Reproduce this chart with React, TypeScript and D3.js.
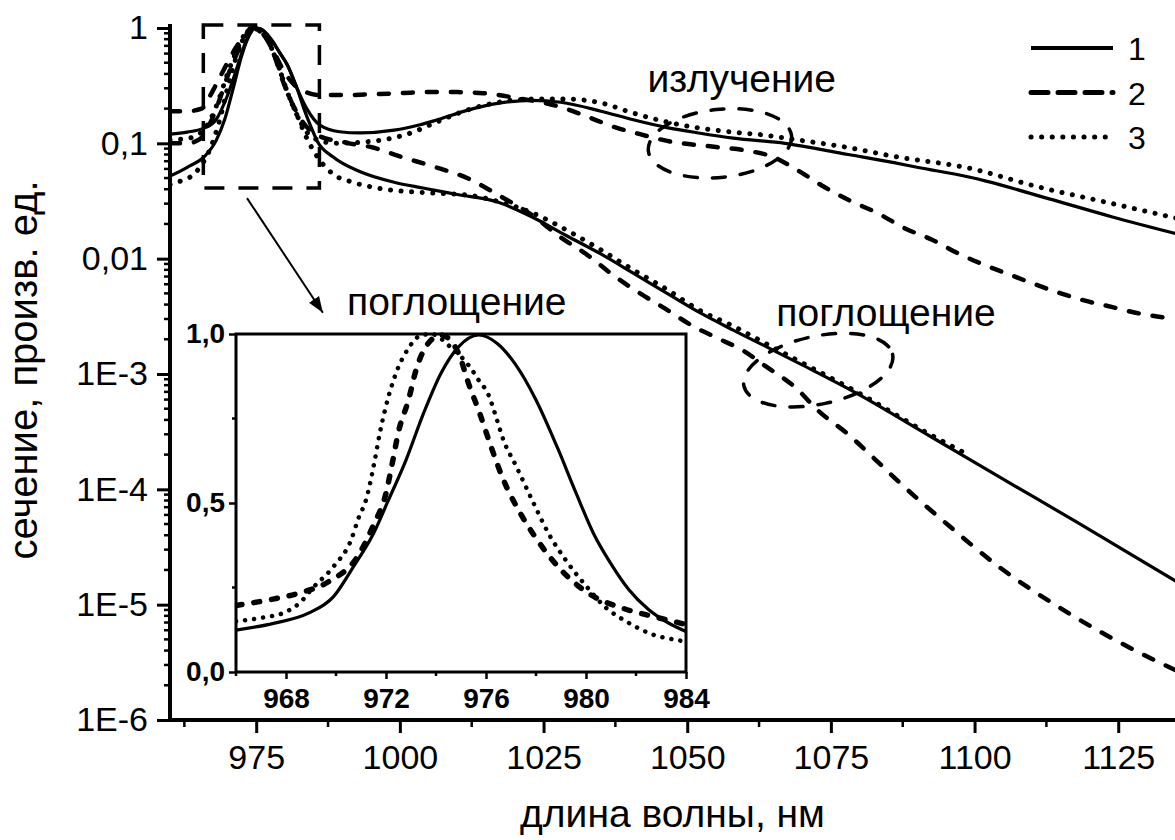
import React, { useEffect, useRef } from 'react'
import * as d3 from 'd3'

type Pt = [number, number]

// main plot, log scale: [wavelength, nm ; cross-section, rel. units]
const emission1: Pt[] = [
    [960, 0.052], [963, 0.062], [966, 0.077], [968, 0.105], [969.5, 0.16], [971, 0.3], [972.5, 0.58], [974, 0.9],
    [974.8, 1], [975.8, 0.98], [977, 0.87], [977.9, 0.76], [979, 0.62], [980.4, 0.48], [982.1, 0.3], [983.8, 0.2],
    [986, 0.145], [989.5, 0.126], [993, 0.123], [999, 0.13], [1003.5, 0.145], [1006, 0.157], [1012, 0.195],
    [1017, 0.222], [1023, 0.236], [1028, 0.227], [1035, 0.19], [1040.6, 0.16], [1046.5, 0.137], [1052, 0.123],
    [1058, 0.111], [1067, 0.1], [1078, 0.08], [1086, 0.068], [1090, 0.062], [1099, 0.051], [1102, 0.047],
    [1113, 0.033], [1124, 0.023], [1135, 0.0165]
]
const absorption1: Pt[] = [
    [960, 0.12], [963, 0.125], [966, 0.136], [968, 0.16], [970, 0.26], [971.7, 0.46], [973, 0.72], [974, 0.92],
    [974.8, 1], [975.8, 0.98], [977, 0.87], [977.9, 0.76], [979, 0.62], [980.4, 0.48], [982.1, 0.3], [983.3, 0.2],
    [984.5, 0.14], [985.6, 0.105], [988.4, 0.076], [993, 0.057], [999, 0.046], [1004, 0.041], [1010, 0.036],
    [1017, 0.031], [1023, 0.023], [1029, 0.0158], [1034.8, 0.0111], [1040.6, 0.0075], [1046.5, 0.005],
    [1052.2, 0.0034], [1058, 0.0024], [1064, 0.0017], [1070, 0.0012], [1079.5, 0.00068], [1092.2, 0.00029],
    [1104.9, 0.000123], [1117.8, 5.2e-5], [1135, 1.6e-5]
]
const emission2: Pt[] = [
    [960, 0.19], [963, 0.19], [965.5, 0.2], [967, 0.26], [968.5, 0.36], [970, 0.5], [971.5, 0.68], [973, 0.86],
    [974.8, 1], [976.5, 0.88], [977.9, 0.65], [979.5, 0.45], [981.4, 0.33], [983.5, 0.28], [986, 0.262],
    [990, 0.262], [995, 0.266], [1000, 0.272], [1005.8, 0.279], [1010, 0.278], [1014.5, 0.272], [1020.4, 0.247],
    [1028, 0.206], [1034, 0.16], [1037, 0.14], [1041, 0.123], [1046.5, 0.105], [1055, 0.093], [1060, 0.087],
    [1065, 0.076], [1069.3, 0.058], [1073.8, 0.042], [1078.2, 0.032], [1083, 0.025], [1088, 0.0182],
    [1092.6, 0.0146], [1097, 0.0112], [1102, 0.0087], [1106, 0.0073], [1110.5, 0.006], [1115, 0.005],
    [1119.4, 0.0043], [1124, 0.0038], [1128, 0.0034], [1135, 0.003]
]
const absorption2: Pt[] = [
    [960, 0.1], [963, 0.1], [965.5, 0.112], [967, 0.15], [968.5, 0.23], [970, 0.38], [971.5, 0.58], [973, 0.82],
    [974.5, 1], [976.5, 0.85], [977.9, 0.62], [979.7, 0.34], [981.4, 0.215], [983.1, 0.153], [985.6, 0.118],
    [990.8, 0.101], [995.3, 0.092], [1000, 0.077], [1005.8, 0.063], [1011.7, 0.05], [1017.4, 0.035],
    [1023.2, 0.0235], [1027.9, 0.0154], [1032.6, 0.0108], [1037.1, 0.0072], [1041.8, 0.005], [1046.5, 0.0036],
    [1051, 0.0026], [1055.7, 0.002], [1059.7, 0.0016], [1063.5, 0.00118], [1069, 0.00075], [1072.8, 0.00048],
    [1078, 0.0003], [1082.3, 0.00019], [1086.9, 0.000115], [1095.4, 4.9e-5], [1104.4, 2.1e-5], [1113.3, 1.05e-5],
    [1122.2, 5.7e-6], [1130.8, 3.4e-6], [1135, 2.7e-6]
]
const emission3: Pt[] = [
    [960, 0.044], [961.2, 0.046], [963.5, 0.051], [965.2, 0.062], [967, 0.09], [968.5, 0.15], [970, 0.3],
    [971.5, 0.55], [973, 0.85], [974.3, 1], [975.5, 0.95], [976.9, 0.8], [978.6, 0.51], [980.4, 0.28],
    [982.1, 0.176], [983.8, 0.125], [986, 0.106], [989, 0.1], [993, 0.102], [999, 0.112], [1002.3, 0.125],
    [1006, 0.15], [1011.7, 0.194], [1017.4, 0.228], [1023, 0.242], [1029, 0.242], [1035, 0.224], [1040.6, 0.183],
    [1046.5, 0.153], [1052, 0.136], [1058, 0.125], [1064, 0.117], [1067, 0.111], [1078, 0.092], [1086, 0.077],
    [1099, 0.061], [1111, 0.042], [1124, 0.03], [1135, 0.0225]
]
const absorption3: Pt[] = [
    [960, 0.107], [963, 0.11], [965.5, 0.125], [967, 0.16], [968.5, 0.24], [970, 0.4], [971.5, 0.62], [973, 0.88],
    [974.3, 1], [975.5, 0.95], [976.9, 0.8], [978.6, 0.51], [980.4, 0.28], [982.1, 0.176], [983.8, 0.111],
    [985.6, 0.077], [988.4, 0.054], [991.8, 0.046], [996, 0.041], [1002, 0.038], [1006, 0.037], [1012, 0.0355],
    [1017.4, 0.031], [1023, 0.025], [1029, 0.0177], [1035, 0.0119], [1040.6, 0.008], [1046.5, 0.0054],
    [1052, 0.0036], [1058, 0.0026], [1064, 0.0018], [1070, 0.00125], [1079.5, 0.0007], [1092.2, 0.0003],
    [1098, 0.00021]
]

// inset, linear scale: normalised absorption around the peak
const inset1: Pt[] = [
    [966, 0.124], [967.5, 0.144], [968.9, 0.174], [969.9, 0.223], [970.7, 0.312], [971.5, 0.41], [972.1, 0.509],
    [972.8, 0.627], [973.5, 0.765], [974.2, 0.884], [974.9, 0.962], [975.7, 0.997], [976.45, 0.972],
    [977.15, 0.913], [978, 0.805], [978.85, 0.665], [979.6, 0.53], [980.3, 0.41], [981, 0.32], [981.7, 0.245],
    [982.5, 0.185], [983.3, 0.145], [984, 0.12]
]
const inset2: Pt[] = [
    [966, 0.197], [967.3, 0.213], [968.5, 0.233], [969.7, 0.267], [970.9, 0.346], [971.5, 0.435], [972, 0.529],
    [972.25, 0.617], [972.5, 0.711], [972.9, 0.805], [973.2, 0.893], [973.8, 0.982], [974.2, 0.997],
    [974.9, 0.943], [975.3, 0.854], [975.75, 0.765], [976.2, 0.667], [976.7, 0.568], [977.3, 0.479], [978, 0.396],
    [979, 0.302], [980.2, 0.228], [981.5, 0.188], [982.7, 0.164], [983.8, 0.144], [984, 0.14]
]
const inset3: Pt[] = [
    [966, 0.15], [967, 0.16], [968, 0.178], [968.6, 0.208], [969, 0.243], [969.9, 0.312], [970.6, 0.39],
    [970.9, 0.455], [971.2, 0.509], [971.5, 0.607], [971.75, 0.706], [972.1, 0.815], [972.4, 0.884],
    [972.9, 0.958], [973.3, 0.992], [973.8, 1.0], [974.6, 0.96], [975.4, 0.898], [975.7, 0.864], [976.1, 0.82],
    [976.4, 0.755], [976.7, 0.686], [977.2, 0.61], [977.9, 0.5], [978.5, 0.41], [979.2, 0.33], [980, 0.255],
    [980.8, 0.19], [981.6, 0.15], [982.7, 0.11], [983.6, 0.095], [984, 0.09]
]

const seriesLabels = ['1', '2', '3']
const xTicks = [975, 1000, 1025, 1050, 1075, 1100, 1125]
const xMinorTicks = [962.5, 987.5, 1012.5, 1037.5, 1062.5, 1087.5, 1112.5]
const yTicks = [1, 0.1, 0.01, 1e-3, 1e-4, 1e-5, 1e-6]
const yTickLabels = ['1', '0,1', '0,01', '1E-3', '1E-4', '1E-5', '1E-6']
const insetXTicks = [968, 972, 976, 980, 984]
const insetXMinorTicks = [966, 970, 974, 978, 982]
const insetYTicks = [0, 0.5, 1]
const insetYTickLabels = ['0,0', '0,5', '1,0']
const insetYMinorTicks = [0.25, 0.75]

// annotation anchors in data units
const zoomBox = { x0: 965.8, x1: 986, y0: 0.041, y1: 1.06 }
const arrowFrom: Pt = [973.4, 0.0335]
const arrowTo: Pt = [986.6, 0.0034]
const annotations: { text: string; at: Pt }[] = [
    { text: 'излучение', at: [1059.5, 0.279] },
    { text: 'поглощение', at: [1009.9, 0.00324] },
    { text: 'поглощение', at: [1084.6, 0.00259] }
]
const ellipseCenters: Pt[] = [[1055.7, 0.1], [1072.8, 0.00108]]

const W = 1175
const H = 840
const FONT = '"Liberation Sans", Arial, Helvetica, sans-serif'

interface LineStyle {
    dash: string | null
    width: number
}
const mainStyles: LineStyle[] = [
    { dash: null, width: 3.2 },
    { dash: '10 14', width: 4.5 },
    { dash: '0.1 10.5', width: 5 }
]
const insetStyles: LineStyle[] = [
    { dash: null, width: 3.2 },
    { dash: '6 12', width: 5.5 },
    { dash: '0.1 9', width: 4.5 }
]
const legendStyles: LineStyle[] = [
    { dash: null, width: 4 },
    { dash: '17 10', width: 5 },
    { dash: '0.1 10.5', width: 5 }
]

function styleLine(sel: any, st: LineStyle) {
    return sel
        .attr('fill', 'none')
        .attr('stroke', '#000')
        .attr('stroke-width', st.width)
        .attr('stroke-linecap', st.dash ? 'round' : 'butt')
        .attr('stroke-linejoin', 'round')
        .attr('stroke-dasharray', st.dash)
}

export default function App() {
    const svgRef = useRef<SVGSVGElement | null>(null)

    useEffect(() => {
        const svg = d3.select(svgRef.current)
        svg.selectAll('*').remove()

        const x = d3.scaleLinear().domain([960, 1135]).range([170, 1175.7])
        const y = d3.scaleLog().domain([1e-6, 1]).range([720, 28])

        const defs = svg.append('defs')
        defs.append('clipPath')
            .attr('id', 'plot-clip')
            .append('rect')
            .attr('x', 170)
            .attr('y', 14)
            .attr('width', W - 170)
            .attr('height', 720 - 14)
        defs.append('marker')
            .attr('id', 'arrow-head')
            .attr('markerUnits', 'userSpaceOnUse')
            .attr('markerWidth', 18)
            .attr('markerHeight', 14)
            .attr('refX', 16)
            .attr('refY', 7)
            .attr('orient', 'auto')
            .append('path')
            .attr('d', 'M0,1 L16,7 L0,13 Z')
            .attr('fill', '#000')

        // main curves
        const line = d3
            .line<Pt>()
            .x((d) => x(d[0]))
            .y((d) => y(d[1]))
            .curve(d3.curveMonotoneX)

        const mainCurves = [
            { data: emission1, s: 0 },
            { data: absorption1, s: 0 },
            { data: emission2, s: 1 },
            { data: absorption2, s: 1 },
            { data: emission3, s: 2 },
            { data: absorption3, s: 2 }
        ]
        const plot = svg.append('g').attr('clip-path', 'url(#plot-clip)')
        mainCurves.forEach((c) => {
            styleLine(plot.append('path').attr('d', line(c.data)), mainStyles[c.s])
        })

        // zoom box, arrow, ellipses and labels
        svg.append('rect')
            .attr('x', x(zoomBox.x0))
            .attr('y', y(zoomBox.y1))
            .attr('width', x(zoomBox.x1) - x(zoomBox.x0))
            .attr('height', y(zoomBox.y0) - y(zoomBox.y1))
            .attr('fill', 'none')
            .attr('stroke', '#000')
            .attr('stroke-width', 3.5)
            .attr('stroke-dasharray', '20 14')

        svg.append('line')
            .attr('x1', x(arrowFrom[0]))
            .attr('y1', y(arrowFrom[1]))
            .attr('x2', x(arrowTo[0]))
            .attr('y2', y(arrowTo[1]))
            .attr('stroke', '#000')
            .attr('stroke-width', 2)
            .attr('marker-end', 'url(#arrow-head)')

        const ellipseSize = [
            { rx: 72, ry: 34, angle: -6 },
            { rx: 76, ry: 34, angle: -12 }
        ]
        ellipseCenters.forEach((c, i) => {
            const cx = x(c[0])
            const cy = y(c[1])
            svg.append('ellipse')
                .attr('cx', cx)
                .attr('cy', cy)
                .attr('rx', ellipseSize[i].rx)
                .attr('ry', ellipseSize[i].ry)
                .attr('transform', `rotate(${ellipseSize[i].angle},${cx},${cy})`)
                .attr('fill', 'none')
                .attr('stroke', '#000')
                .attr('stroke-width', 3.5)
                .attr('stroke-linecap', 'round')
                .attr('stroke-dasharray', '13 15')
        })

        svg.selectAll('text.note')
            .data(annotations)
            .join('text')
            .attr('class', 'note')
            .attr('x', (d) => x(d.at[0]))
            .attr('y', (d) => y(d.at[1]))
            .attr('text-anchor', 'middle')
            .attr('font-family', FONT)
            .attr('font-size', 39)
            .text((d) => d.text)

        // inset
        const ix = d3.scaleLinear().domain([966, 984]).range([236, 686])
        const iy = d3.scaleLinear().domain([0, 1]).range([672, 334])
        const inset = svg.append('g')
        inset.append('rect')
            .attr('x', ix(966))
            .attr('y', iy(1))
            .attr('width', ix(984) - ix(966))
            .attr('height', iy(0) - iy(1))
            .attr('fill', '#fff')
        defs.append('clipPath')
            .attr('id', 'inset-clip')
            .append('rect')
            .attr('x', ix(966))
            .attr('y', iy(1) - 2)
            .attr('width', ix(984) - ix(966))
            .attr('height', iy(0) - iy(1) + 2)

        const insetLine = d3
            .line<Pt>()
            .x((d) => ix(d[0]))
            .y((d) => iy(d[1]))
            .curve(d3.curveMonotoneX)
        const insetPlot = inset.append('g').attr('clip-path', 'url(#inset-clip)')
        ;[inset1, inset2, inset3].forEach((data, i) => {
            styleLine(insetPlot.append('path').attr('d', insetLine(data)), insetStyles[i])
        })

        inset.append('rect')
            .attr('x', ix(966))
            .attr('y', iy(1))
            .attr('width', ix(984) - ix(966))
            .attr('height', iy(0) - iy(1))
            .attr('fill', 'none')
            .attr('stroke', '#000')
            .attr('stroke-width', 3)

        const ixAxis = inset
            .append('g')
            .attr('transform', `translate(0, ${iy(0)})`)
            .call(d3.axisBottom(ix).tickValues(insetXTicks).tickSize(7).tickPadding(9).tickSizeOuter(0).tickFormat(d3.format('d')))
        const iyAxis = inset
            .append('g')
            .attr('transform', `translate(${ix(966)}, 0)`)
            .call(
                d3
                    .axisLeft(iy)
                    .tickValues(insetYTicks)
                    .tickSize(7)
                    .tickPadding(4)
                    .tickSizeOuter(0)
                    .tickFormat((d, i) => insetYTickLabels[i])
            )
        ;[ixAxis, iyAxis].forEach((g) => {
            g.select('.domain').remove()
            g.attr('font-family', FONT).attr('font-size', 28).attr('font-weight', 'bold')
            g.selectAll('line').attr('stroke-width', 2.5)
            g.selectAll('text').attr('fill', '#000')
        })
        inset.selectAll('line.ixminor')
            .data(insetXMinorTicks)
            .join('line')
            .attr('class', 'ixminor')
            .attr('x1', (d) => ix(d))
            .attr('x2', (d) => ix(d))
            .attr('y1', iy(0))
            .attr('y2', iy(0) + 4)
            .attr('stroke', '#000')
            .attr('stroke-width', 2.5)
        inset.selectAll('line.iyminor')
            .data(insetYMinorTicks)
            .join('line')
            .attr('class', 'iyminor')
            .attr('x1', ix(966) - 4)
            .attr('x2', ix(966))
            .attr('y1', (d) => iy(d))
            .attr('y2', (d) => iy(d))
            .attr('stroke', '#000')
            .attr('stroke-width', 2.5)

        // main axes
        const gx = svg
            .append('g')
            .attr('transform', 'translate(0, 720)')
            .call(d3.axisBottom(x).tickValues(xTicks).tickSize(13).tickPadding(12).tickSizeOuter(0).tickFormat(d3.format('d')))
        const gy = svg
            .append('g')
            .attr('transform', 'translate(170, 0)')
            .call(
                d3
                    .axisLeft(y)
                    .tickValues(yTicks)
                    .tickSize(13)
                    .tickPadding(9)
                    .tickSizeOuter(0)
                    .tickFormat((d, i) => yTickLabels[i])
            )
        ;[gx, gy].forEach((g) => {
            g.select('.domain').remove()
            g.attr('font-family', FONT).attr('font-size', 34)
            g.selectAll('line').attr('stroke-width', 3)
            g.selectAll('text').attr('fill', '#000')
        })

        svg.selectAll('line.xminor')
            .data(xMinorTicks)
            .join('line')
            .attr('class', 'xminor')
            .attr('x1', (d) => x(d))
            .attr('x2', (d) => x(d))
            .attr('y1', 720)
            .attr('y2', 727)
            .attr('stroke', '#000')
            .attr('stroke-width', 2.5)

        const yMinor: number[] = []
        yTicks.slice(1).forEach((dec) => {
            for (let k = 2; k <= 9; k++) yMinor.push(dec * k)
        })
        svg.selectAll('line.yminor')
            .data(yMinor)
            .join('line')
            .attr('class', 'yminor')
            .attr('x1', 164)
            .attr('x2', 170)
            .attr('y1', (d) => y(d))
            .attr('y2', (d) => y(d))
            .attr('stroke', '#000')
            .attr('stroke-width', 2.5)

        svg.append('line')
            .attr('x1', 170)
            .attr('x2', 170)
            .attr('y1', 24)
            .attr('y2', 722)
            .attr('stroke', '#000')
            .attr('stroke-width', 4)
        svg.append('line')
            .attr('x1', 168)
            .attr('x2', W)
            .attr('y1', 720)
            .attr('y2', 720)
            .attr('stroke', '#000')
            .attr('stroke-width', 4)

        // axis titles
        svg.append('text')
            .attr('x', (170 + W) / 2)
            .attr('y', 827)
            .attr('text-anchor', 'middle')
            .attr('font-family', FONT)
            .attr('font-size', 39)
            .text('длина волны, нм')
        svg.append('text')
            .attr('transform', 'translate(37, 370) rotate(-90)')
            .attr('text-anchor', 'middle')
            .attr('font-family', FONT)
            .attr('font-size', 40)
            .text('сечение, произв. ед.')

        // legend
        const legend = svg.append('g')
        seriesLabels.forEach((label, i) => {
            const ly = 48 + i * 44.5
            styleLine(legend.append('line').attr('x1', 1031).attr('x2', 1113).attr('y1', ly).attr('y2', ly), legendStyles[i])
            legend
                .append('text')
                .attr('x', 1128)
                .attr('y', ly + 12)
                .attr('font-family', FONT)
                .attr('font-size', 32)
                .text(label)
        })
    }, [])

    return (
        <svg
            ref={svgRef}
            width={W}
            height={H}
            style={{ position: 'absolute', left: 0, top: 0, background: '#fff', display: 'block' }}
        />
    )
}
